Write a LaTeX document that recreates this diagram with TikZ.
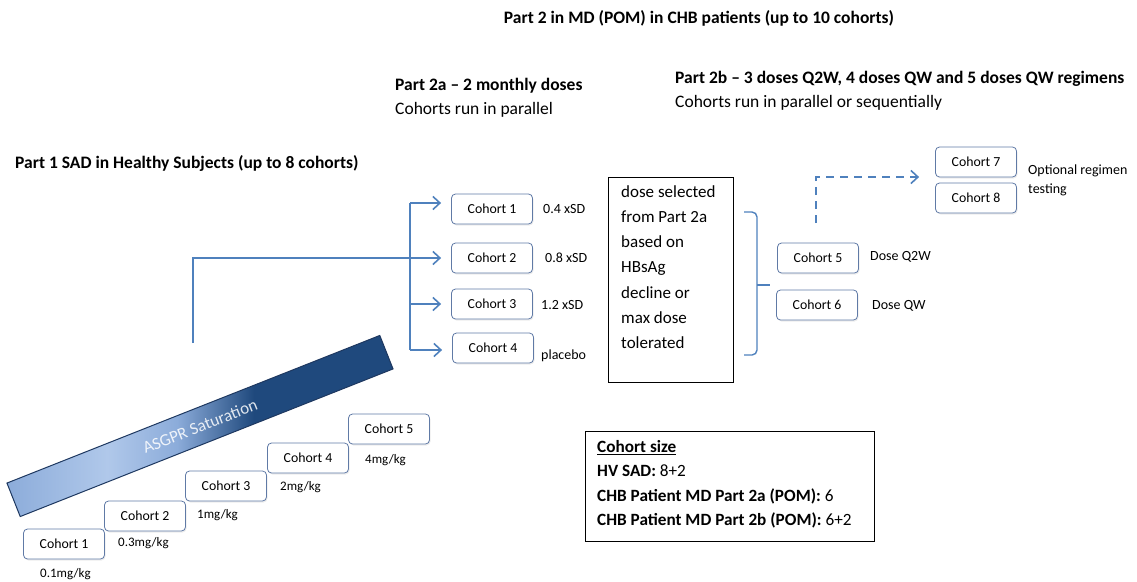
\documentclass[tikz,border=0pt]{standalone}
\usepackage{fontspec}
\setmainfont{Carlito}
\usetikzlibrary{calc,positioning,arrows.meta,shadows}

\definecolor{cFlowBlue}{RGB}{79,129,189}
\definecolor{cBoxEdge}{RGB}{96,122,166}
\definecolor{cBarLight}{RGB}{140,172,218}
\definecolor{cBarMid}{RGB}{176,200,234}
\definecolor{cBarDark}{RGB}{31,73,125}
\definecolor{cBarEdge}{RGB}{30,56,96}

\pgfdeclarehorizontalshading{asgprshade}{100bp}{color(0bp)=(cBarLight); color(25bp)=(cBarLight); color(38bp)=(cBarMid); color(47bp)=(cBarLight); color(57bp)=(cBarDark); color(75bp)=(cBarDark); color(100bp)=(cBarDark)}

\begin{document}
\begin{tikzpicture}[x=1pt,y=-1pt,
    cohortbox/.style={draw=cBoxEdge, line width=0.8pt, rounded corners=4pt, fill=white,
        minimum width=81pt, minimum height=30pt, inner sep=0pt,
        font=\fontsize{13.8}{16}\selectfont,
        drop shadow={shadow xshift=1pt, shadow yshift=-1.5pt, opacity=0.15}},
    doselabel/.style={anchor=west, inner sep=0pt, font=\fontsize{14}{16}\selectfont},
    mglabel/.style={anchor=west, inner sep=0pt, font=\fontsize{13}{15}\selectfont},
    headline/.style={anchor=west, inner sep=0pt, font=\fontsize{17.5}{20}\selectfont\bfseries},
    subline/.style={anchor=west, inner sep=0pt, font=\fontsize{17.5}{20}\selectfont},
    flowline/.style={draw=cFlowBlue, line width=1.6pt},
    flowarrow/.style={flowline, -{Straight Barb[length=7pt,width=13pt]}, shorten >=10pt},
]
    \useasboundingbox (0,0) rectangle (1137,581);

    % titles
    \node[headline, anchor=center] (nTitle) at (699,18) {Part 2 in MD (POM) in CHB patients (up to 10 cohorts)};
    \node[headline] (nTitleTwoA) at (395,86) {Part 2a -- 2 monthly doses};
    \node[subline] (nSubTwoA) at (395,110) {Cohorts run in parallel};
    \node[headline] (nTitleTwoB) at (675,79) {Part 2b -- 3 doses Q2W, 4 doses QW and 5 doses QW regimens};
    \node[subline] (nSubTwoB) at (675,103) {Cohorts run in parallel or sequentially};
    \node[headline] (nTitleOne) at (15,163) {Part 1 SAD in Healthy Subjects (up to 8 cohorts)};

    % part 1 saturation bar
    \node[rotate=21.6, shading=asgprshade, draw=cBarEdge, line width=1pt,
          minimum width=401pt, minimum height=36pt, inner sep=0pt,
          text=white, text opacity=0.85, font=\fontsize{17}{20}\selectfont] (nBar) at (200,426) {ASGPR Saturation};

    % part 1 staircase
    \node[cohortbox] (nSadOne) at (64,544) {Cohort 1};
    \node[cohortbox] (nSadTwo) at (145,516) {Cohort 2};
    \node[cohortbox] (nSadThree) at (226,486) {Cohort 3};
    \node[cohortbox] (nSadFour) at (308,458) {Cohort 4};
    \node[cohortbox] (nSadFive) at (389,429) {Cohort 5};
    \node[mglabel] at (40,574) {0.1mg/kg};
    \node[mglabel] at (118,543) {0.3mg/kg};
    \node[mglabel] at (197,515) {1mg/kg};
    \node[mglabel] at (280,487) {2mg/kg};
    \node[mglabel] at (365,460) {4mg/kg};

    % part 2a
    \node[cohortbox] (nTwoAOne) at (492,209) {Cohort 1};
    \node[cohortbox] (nTwoATwo) at (492,258) {Cohort 2};
    \node[cohortbox] (nTwoAThree) at (492,304) {Cohort 3};
    \node[cohortbox] (nTwoAFour) at (493,348) {Cohort 4};
    \node[doselabel] at (543,209) {0.4 xSD};
    \node[doselabel] at (545,258) {0.8 xSD};
    \node[doselabel] at (541,305) {1.2 xSD};
    \node[doselabel] at (541,356) {placebo};

    \coordinate (cSpineTopPt) at (410,203);
    \coordinate (cSpineBotPt) at (410,350);
    \coordinate (cSadLinePt) at (193,343);
    \draw[flowline] (cSpineTopPt) -- (cSpineBotPt);
    \draw[flowarrow] (cSpineTopPt) -- (cSpineTopPt -| nTwoAOne.west);
    \draw[flowarrow] (cSadLinePt) |- (nTwoATwo.west);
    \draw[flowarrow] (cSpineTopPt |- nTwoAThree.west) -- (nTwoAThree.west);
    \draw[flowarrow] (cSpineBotPt) -- (cSpineBotPt -| nTwoAFour.west);

    % dose selection box and bracket
    \node[draw, line width=0.8pt, minimum width=125pt, minimum height=205pt, anchor=north west] (nDoseBox) at (608,177) {};
    \node[anchor=north west, inner sep=0pt, align=left, font=\fontsize{17}{25.3}\selectfont] (nDoseText) at (621,185)
        {dose selected\\from Part 2a\\based on\\HBsAg\\decline or\\max dose\\tolerated};
    \draw[flowline, line width=1.4pt, rounded corners=5pt] (744,212) -- (757,212) -- (757,355) -- (744,355);
    \draw[flowline, line width=1.4pt] (757,285) -- (770,285);

    % part 2b
    \node[cohortbox] (nTwoBFive) at (818,258) {Cohort 5};
    \node[cohortbox] (nTwoBSix) at (817,305) {Cohort 6};
    \node[cohortbox] (nTwoBSeven) at (976,162) {Cohort 7};
    \node[cohortbox] (nTwoBEight) at (976,198) {Cohort 8};
    \node[doselabel] at (870,257) {Dose Q2W};
    \node[doselabel] at (872,306) {Dose QW};
    \node[doselabel, align=left, anchor=north west, font=\fontsize{14}{19}\selectfont] at (1028,165) {Optional regimen\\testing};

    \coordinate (cDashPt) at (816,223);
    \draw[flowarrow, dash pattern=on 8pt off 6pt, shorten >=16pt] (cDashPt) |- (nTwoBSeven.west |- 0,177);

    % cohort size box
    \node[draw, line width=0.8pt, anchor=north west, inner xsep=11pt, inner ysep=0pt,
          minimum width=289pt, minimum height=110pt] (nSizeBox) at (585,431) {};
    \node[anchor=north west, inner sep=0pt, align=left, font=\fontsize{17.2}{24.4}\selectfont] (nSizeText) at (597,440)
        {\textbf{\underline{Cohort size}}\\
         \textbf{HV SAD:} 8+2\\
         \textbf{CHB Patient MD Part 2a (POM):} 6\\
         \textbf{CHB Patient MD Part 2b (POM):} 6+2};
\end{tikzpicture}
\end{document}
